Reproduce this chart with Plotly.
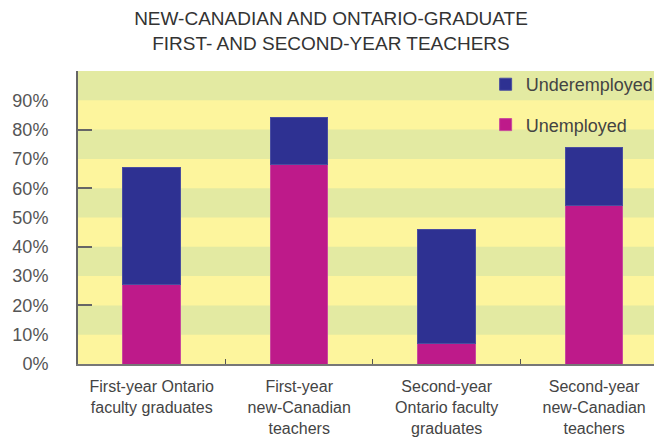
import plotly.graph_objects as go

categories = [
    "First-year Ontario<br>faculty graduates",
    "First-year<br>new-Canadian<br>teachers",
    "Second-year<br>Ontario faculty<br>graduates",
    "Second-year<br>new-Canadian<br>teachers",
]
unemployed = [27, 68, 7, 54]
underemployed = [40, 16, 39, 20]
y_tickvals = [0, 10, 20, 30, 40, 50, 60, 70, 80, 90]
y_ticktext = [f"{v}%" for v in y_tickvals]

YELLOW = "#FDF59D"
GREEN = "#E3EAA2"
NAVY = "#2E3192"
MAGENTA = "#BE1A8A"
FONT = "Liberation Sans, Arial, sans-serif"

fig = go.Figure()
fig.add_trace(go.Bar(
    x=categories, y=unemployed, name="Unemployed", legendgroup="a", legendrank=2,
    marker=dict(color=MAGENTA, line=dict(color="#C84A9C", width=1)), width=0.39,
))
fig.add_trace(go.Bar(
    x=categories, y=underemployed, name="Underemployed", legendgroup="b", legendrank=1,
    marker=dict(color=NAVY, line=dict(color="#4A4EA0", width=1)), width=0.39,
))
# invisible trace on overlay axis to carry 20% tick marks
fig.add_trace(go.Scatter(x=[categories[0]], y=[0], yaxis="y2", mode="markers",
                         marker=dict(opacity=0), showlegend=False, hoverinfo="skip"))

shapes = []
for i in range(10):
    if i % 2 == 1:
        shapes.append(dict(type="rect", xref="paper", yref="y", x0=0, x1=1,
                           y0=i * 10, y1=(i + 1) * 10, fillcolor=GREEN,
                           line=dict(width=0), layer="below"))

fig.update_layout(
    width=654, height=435,
    margin=dict(l=70, r=0, t=63, b=79),
    barmode="stack",
    paper_bgcolor="white",
    plot_bgcolor=YELLOW,
    shapes=shapes,
    title=dict(
        text="NEW-CANADIAN AND ONTARIO-GRADUATE<br>FIRST- AND SECOND-YEAR TEACHERS",
        x=(331 - 8) / 654, xanchor="center", xref="container",
        y=1 - 17 / 435, yanchor="middle", yref="container",
        font=dict(family=FONT, size=19, color="#333"),
    ),
    font=dict(family=FONT, color="#444"),
    legend=dict(
        traceorder="grouped", tracegroupgap=14,
        x=0.698, xanchor="left", y=1.017, yanchor="top",
        bgcolor="rgba(0,0,0,0)", font=dict(size=18, color="#444"),
        itemwidth=30,
    ),
    xaxis=dict(
        range=[-0.5, 3.46], showline=True, linecolor="#777", linewidth=1.5,
        ticks="inside", tickson="boundaries", ticklen=5, tickcolor="#555",
        tickfont=dict(size=16, color="#444"), showgrid=False, automargin=False,
        ticklabelstandoff=7,
    ),
    yaxis=dict(
        range=[0, 100], tickvals=y_tickvals, ticktext=y_ticktext,
        showline=True, linecolor="#666", linewidth=2, ticks="",
        showgrid=False, zeroline=False, ticklabelstandoff=24, automargin=False,
        tickfont=dict(size=18, color="#555"),
    ),
    yaxis2=dict(
        range=[0, 100], overlaying="y", side="left", tickvals=[0, 20, 40, 60, 80, 100],
        ticks="inside", ticklen=14, tickwidth=2, tickcolor="#666", automargin=False,
        showticklabels=False, showgrid=False, zeroline=False, showline=False,
    ),
)
fig.write_html("out.html")
